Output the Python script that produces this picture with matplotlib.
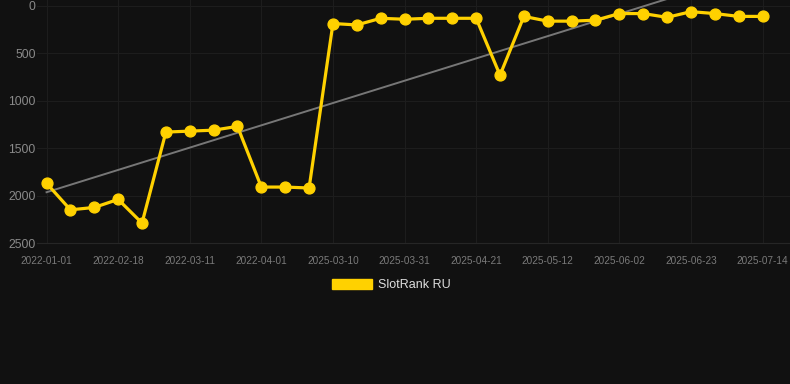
import matplotlib
matplotlib.use("Agg")
import matplotlib.pyplot as plt
from matplotlib.patches import Patch
import numpy as np


# =========================
# DATOS
# =========================

rank_values = [
    1870, 2150, 2125, 2040, 2290,
    1330, 1320, 1310, 1270,
    1910, 1910, 1920,
    185, 200, 130, 140, 130, 130, 130,
    730,
    110, 160, 160, 150,
    80, 80, 120, 60, 80, 110, 110,
]

tick_labels = [
    "2022-01-01", "2022-02-18", "2022-03-11", "2022-04-01",
    "2025-03-10", "2025-03-31", "2025-04-21", "2025-05-12",
    "2025-06-02", "2025-06-23", "2025-07-14",
]
tick_step = 3

series_name = "SlotRank RU"

BG = "#111111"
GOLD = "#FFD100"
GRID = "#1d1d1d"


def main() -> None:
    plt.rcParams["font.family"] = ["Liberation Sans", "DejaVu Sans"]

    x = np.arange(len(rank_values))
    y = np.array(rank_values, dtype=float)
    slope, intercept = np.polyfit(x, y, 1)

    fig = plt.figure(figsize=(7.9, 3.84), dpi=100, facecolor=BG)
    ax = fig.add_axes([37 / 790, 1 - 243 / 384, 1 - 37 / 790, 243 / 384])
    ax.set_facecolor(BG)

    ax.plot(x, intercept + slope * x, color="#777777", linewidth=1.4, zorder=2)
    ax.plot(x, y, color=GOLD, linewidth=2.3, marker="o", markersize=7.8,
            markerfacecolor=GOLD, markeredgecolor=GOLD, zorder=3, clip_on=False)

    ax.set_ylim(2500, -63)
    ax.set_xlim(-0.4, 31.15)
    ax.set_yticks([0, 500, 1000, 1500, 2000, 2500])
    ax.set_xticks(x[::tick_step])
    ax.set_xticklabels(tick_labels)

    ax.tick_params(axis="y", length=0, pad=1, labelsize=8.7, labelcolor="#8a8a8a")
    ax.tick_params(axis="x", length=0, pad=9, labelsize=7.2, labelcolor="#7a7a7a")
    ax.grid(True, color=GRID, linewidth=0.8)
    ax.set_axisbelow(True)
    for side in ("top", "right", "left"):
        ax.spines[side].set_visible(False)
    ax.spines["bottom"].set_color("#262626")
    ax.spines["bottom"].set_linewidth(0.8)

    handle = Patch(facecolor=GOLD, edgecolor=GOLD, label=series_name)
    leg = fig.legend(handles=[handle], loc="center", bbox_to_anchor=(0.4955, 1 - 285 / 384),
                     frameon=False, fontsize=9, handlelength=3.2, handleheight=0.95,
                     handletextpad=0.5)
    for t in leg.get_texts():
        t.set_color("#dddddd")

    fig.savefig("out.png", dpi=100, facecolor=BG)


if __name__ == "__main__":
    main()
